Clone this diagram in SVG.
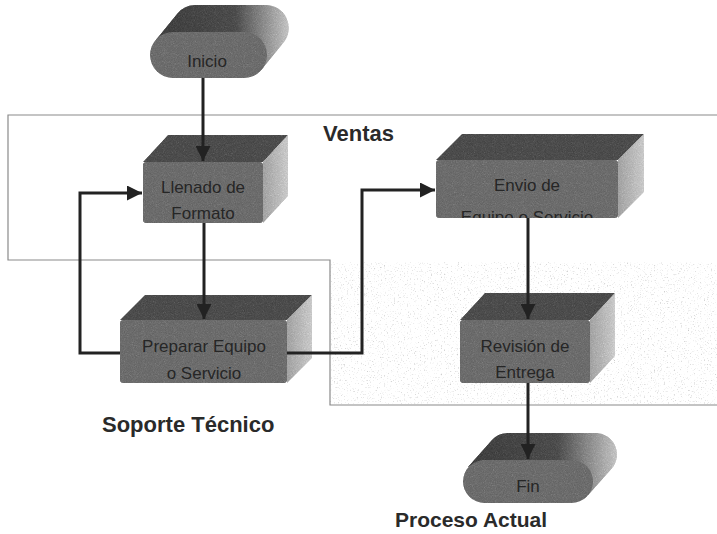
<svg xmlns="http://www.w3.org/2000/svg" width="717" height="534" viewBox="0 0 717 534">
<style>
.front{fill:#7a7a7a}
.top{fill:#5a5a5a}
.side{fill:url(#sideg)}
.lbl{font-family:"Liberation Sans",Arial,sans-serif;font-size:17px;fill:#262626;text-anchor:middle}
.title{font-family:"Liberation Sans",Arial,sans-serif;font-size:22px;font-weight:bold;fill:#2a2a2a}
.conn{fill:none;stroke:#222;stroke-width:3}
.lane{fill:none;stroke:#8a8a8a;stroke-width:1.2}
</style>
<defs>
<linearGradient id="sideg" x1="0" y1="0" x2="1" y2="0">
<stop offset="0" stop-color="#b0b0b0"/><stop offset="1" stop-color="#d8d8d8"/>
</linearGradient>
<linearGradient id="backg" x1="0" y1="0" x2="1" y2="0">
<stop offset="0" stop-color="#4c4c4c"/><stop offset="0.6" stop-color="#5a5a5a"/><stop offset="1" stop-color="#d2d2d2"/>
</linearGradient>
<filter id="grain" x="0" y="0" width="100%" height="100%" color-interpolation-filters="sRGB">
<feTurbulence type="fractalNoise" baseFrequency="0.9" numOctaves="2" seed="4" result="n"/>
<feColorMatrix in="n" type="saturate" values="0" result="g"/>
<feComposite in="g" in2="SourceGraphic" operator="in" result="gi"/>
<feComposite in="SourceGraphic" in2="gi" operator="arithmetic" k1="0" k2="1" k3="0.3" k4="-0.14"/>
</filter>
<filter id="speck" x="0" y="0" width="100%" height="100%" color-interpolation-filters="sRGB">
<feTurbulence type="fractalNoise" baseFrequency="0.7" numOctaves="2" seed="9" result="n"/>
<feColorMatrix in="n" type="matrix" values="0 0 0 0 0.65  0 0 0 0 0.65  0 0 0 0 0.65  -2.0 0 0 0 0.8" result="s"/>
<feComposite in="s" in2="SourceGraphic" operator="in"/>
</filter>
<marker id="arr" viewBox="0 0 10 10" refX="10" refY="5" markerWidth="5" markerHeight="5" orient="auto" markerUnits="strokeWidth">
<path d="M0,0 L10,5 L0,10 Z" fill="#222"/>
</marker>
<clipPath id="cLl"><rect x="143" y="162" width="120" height="61"/></clipPath>
<clipPath id="cEn"><rect x="436" y="160" width="182" height="58"/></clipPath>
<clipPath id="cPr"><rect x="120" y="320" width="167" height="63"/></clipPath>
<clipPath id="cRe"><rect x="460" y="320" width="130" height="63"/></clipPath>
</defs>
<rect width="717" height="534" fill="#fff"/>

<g id="lane-ventas">
<rect x="330" y="262" width="387" height="142" fill="#fff" filter="url(#speck)"/>
<path class="lane" d="M717,115 H8 V260 H330 V405 H717"/>
<text class="title" x="323" y="141">Ventas</text>
</g>

<g id="inicio">
<g filter="url(#grain)">
<path fill="url(#backg)" d="M155.3,40.5 L177.3,13.5 A23,23 0 0 1 195,5 H266 A23,23 0 0 1 283.7,42.5 L261.7,69.5 L173,32 Z"/>
<rect class="front" x="150" y="32" width="117" height="46" rx="23"/>
</g>
<text class="lbl" x="207" y="67">Inicio</text>
</g>

<g id="llenado">
<g filter="url(#grain)">
<path class="top" d="M143,162 L168,135 L288,135 L263,162 Z"/>
<path class="side" d="M263,162 L288,135 L288,196 L263,223 Z"/>
<rect class="front" x="143" y="162" width="120" height="61" rx="3"/>
</g>
<g clip-path="url(#cLl)"><text class="lbl" x="203" y="193">Llenado de</text><text class="lbl" x="203" y="219">Formato</text></g>
</g>

<g id="envio">
<g filter="url(#grain)">
<path class="top" d="M436,160 L462,134 L644,134 L618,160 Z"/>
<path class="side" d="M618,160 L644,134 L644,192 L618,218 Z"/>
<rect class="front" x="436" y="160" width="182" height="58" rx="3"/>
</g>
<g clip-path="url(#cEn)"><text class="lbl" x="527" y="191">Envio de</text><text class="lbl" x="527" y="223">Equipo o Servicio</text></g>
</g>

<g id="preparar">
<g filter="url(#grain)">
<path class="top" d="M120,320 L145,295 L312,295 L287,320 Z"/>
<path class="side" d="M287,320 L312,295 L312,358 L287,383 Z"/>
<rect class="front" x="120" y="320" width="167" height="63" rx="3"/>
</g>
<g clip-path="url(#cPr)"><text class="lbl" x="204" y="352">Preparar Equipo</text><text class="lbl" x="204" y="379">o Servicio</text></g>
</g>

<g id="revision">
<g filter="url(#grain)">
<path class="top" d="M460,320 L485,293 L615,293 L590,320 Z"/>
<path class="side" d="M590,320 L615,293 L615,356 L590,383 Z"/>
<rect class="front" x="460" y="320" width="130" height="63" rx="3"/>
</g>
<g clip-path="url(#cRe)"><text class="lbl" x="525" y="352">Revisión de</text><text class="lbl" x="525" y="378">Entrega</text></g>
</g>

<g id="fin">
<g filter="url(#grain)">
<path fill="url(#backg)" d="M467.6,467.2 L491.6,440.2 A21.5,21.5 0 0 1 508.5,433 H595.5 A21.5,21.5 0 0 1 612.1,468.2 L588.1,495.2 L484,460 Z"/>
<rect class="front" x="463" y="460" width="130" height="43" rx="21.5"/>
</g>
<text class="lbl" x="528" y="492">Fin</text>
</g>

<g id="connectors">
<path class="conn" d="M203,78 V161" marker-end="url(#arr)"/>
<path class="conn" d="M204,223 V319" marker-end="url(#arr)"/>
<path class="conn" d="M120,353 H80 V193 H142" marker-end="url(#arr)"/>
<path class="conn" d="M287,353 H362 V190 H435" marker-end="url(#arr)"/>
<path class="conn" d="M528,218 V319" marker-end="url(#arr)"/>
<path class="conn" d="M528,383 V459" marker-end="url(#arr)"/>
</g>

<text class="title" x="102" y="432">Soporte Técnico</text>
<text class="title" x="395" y="527" style="font-size:21px">Proceso Actual</text>
</svg>
